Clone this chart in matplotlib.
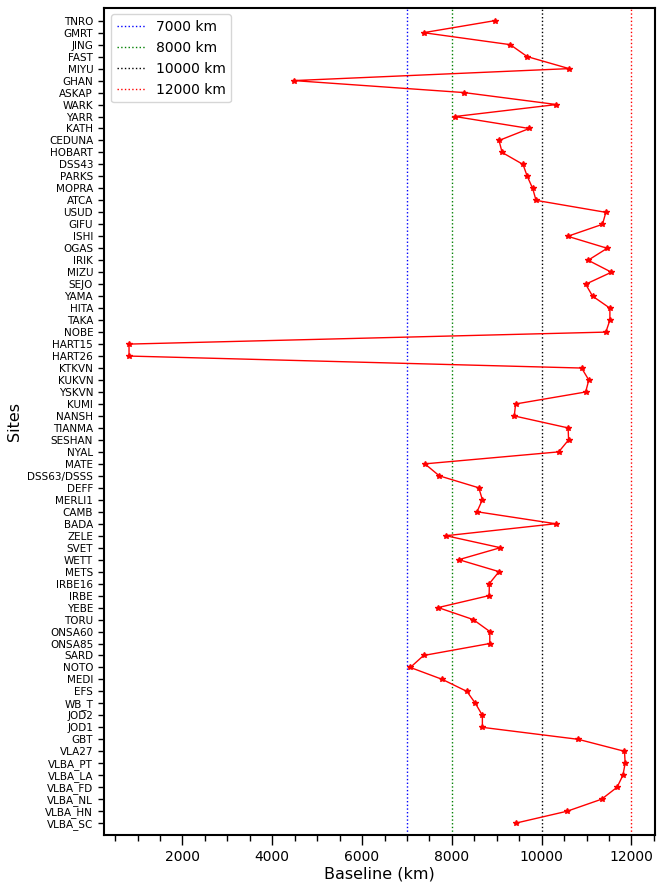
import numpy as np
import matplotlib.pyplot as plt
from matplotlib.ticker import MultipleLocator

# top to bottom as in the figure
sites = ["TNRO", "GMRT", "JING", "FAST", "MIYU", "GHAN", "ASKAP", "WARK", "YARR", "KATH",
         "CEDUNA", "HOBART", "DSS43", "PARKS", "MOPRA", "ATCA", "USUD", "GIFU", "ISHI", "OGAS",
         "IRIK", "MIZU", "SEJO", "YAMA", "HITA", "TAKA", "NOBE", "HART15", "HART26", "KTKVN",
         "KUKVN", "YSKVN", "KUMI", "NANSH", "TIANMA", "SESHAN", "NYAL", "MATE", "DSS63/DSSS", "DEFF",
         "MERLI1", "CAMB", "BADA", "ZELE", "SVET", "WETT", "METS", "IRBE16", "IRBE", "YEBE",
         "TORU", "ONSA60", "ONSA85", "SARD", "NOTO", "MEDI", "EFS", "WB_T", "JOD2", "JOD1",
         "GBT", "VLA27", "VLBA_PT", "VLBA_LA", "VLBA_FD", "VLBA_NL", "VLBA_HN", "VLBA_SC"]

baseline = [8950, 7370, 9300, 9680, 10610, 4480, 8270, 10330, 8070, 9725,
            9050, 9120, 9585, 9680, 9800, 9875, 11430, 11355, 10580, 11460,
            11035, 11555, 10980, 11135, 11520, 11520, 11430, 810, 810, 10890,
            11050, 10980, 9420, 9390, 10590, 10600, 10380, 7400, 7720, 8600,
            8680, 8560, 10310, 7870, 9080, 8155, 9050, 8835, 8830, 7695,
            8475, 8845, 8845, 7370, 7075, 7790, 8335, 8525, 8680, 8680,
            10815, 11845, 11860, 11810, 11680, 11335, 10570, 9420]  # km

ref_lines = [7000, 8000, 10000, 12000]  # km
ref_colors = ["blue", "green", "black", "red"]

sites = sites[::-1]
baseline = baseline[::-1]
y = np.arange(len(sites))

fig = plt.figure(figsize=(6.64, 8.86), dpi=100)
ax = fig.add_axes([0.157, 0.057, 0.829, 0.9345])

for xv, c in zip(ref_lines, ref_colors):
    ax.axvline(xv, color=c, ls=":", lw=1.0, label=f"{xv} km")

ax.plot(baseline, y, color="red", marker="*", markersize=4, lw=1.0)

ax.set_yticks(y)
ax.set_yticklabels(sites, fontsize=7.5)
ax.set_ylim(-1.03, 68.1)
ax.set_xlim(258, 12518)
ax.xaxis.set_minor_locator(MultipleLocator(500))
ax.tick_params(axis="x", which="major", labelsize=10, length=7, width=1)
ax.tick_params(axis="x", which="minor", length=4.5, width=1)
ax.tick_params(axis="y", length=4.5, width=1)
for s in ax.spines.values():
    s.set_linewidth(1.5)

ax.set_xlabel("Baseline (km)", fontsize=11.5, labelpad=2)
ax.set_ylabel("Sites", fontsize=11.5)
ax.legend(loc="upper left", fontsize=10)

plt.savefig("out.png", dpi=100)
